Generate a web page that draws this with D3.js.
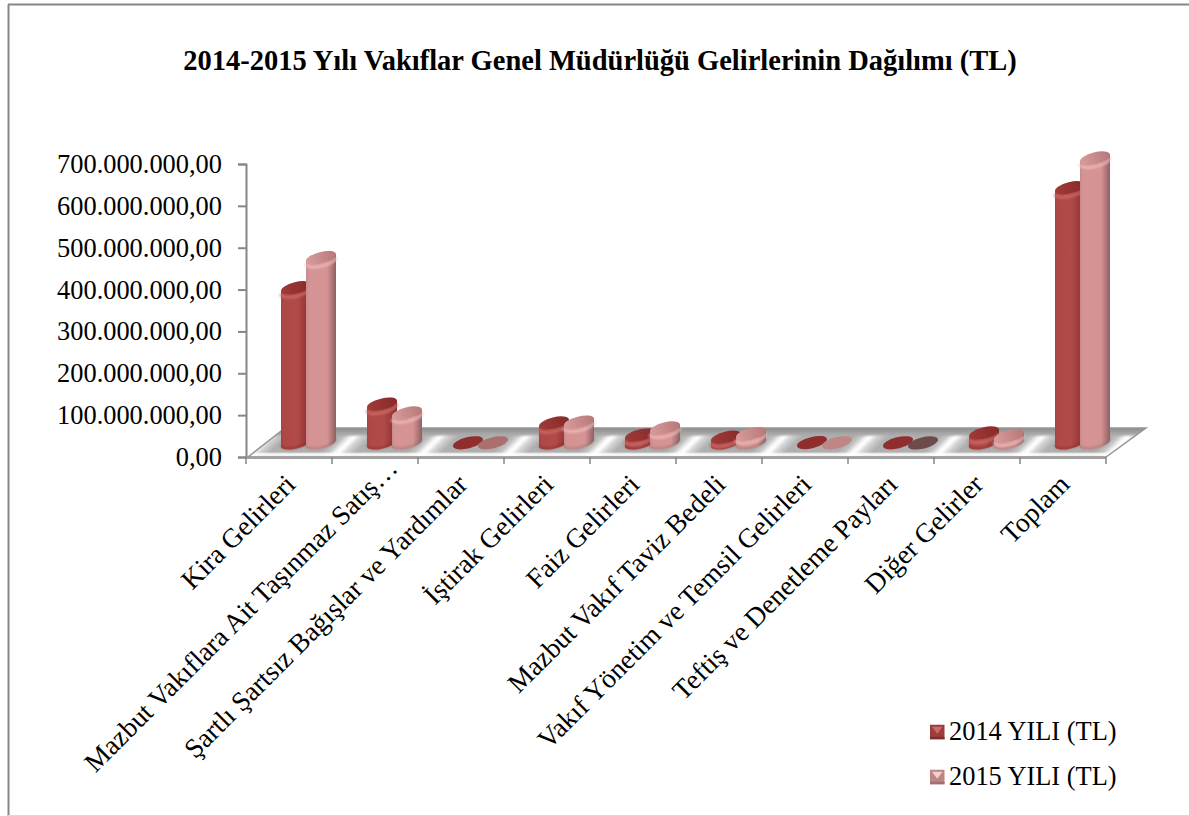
<!DOCTYPE html>
<html>
<head>
<meta charset="utf-8">
<script src="https://d3js.org/d3.v7.min.js"></script>
<style>
html, body { margin: 0; padding: 0; background: #fff; }
text { font-family: "Liberation Serif", "Times New Roman", serif; fill: #000; }
</style>
</head>
<body>
<div id="main"></div>
<script>
var width = 1189;
var height = 816;

var title = "2014-2015 Yılı Vakıflar Genel Müdürlüğü Gelirlerinin Dağılımı (TL)";
var categories = ["Kira Gelirleri", "Mazbut Vakıflara Ait Taşınmaz Satış…", "Şartlı Şartsız Bağışlar ve Yardımlar", "İştirak Gelirleri", "Faiz Gelirleri", "Mazbut Vakıf Taviz Bedeli", "Vakıf Yönetim ve Temsil Gelirleri", "Teftiş ve Denetleme Payları", "Diğer Gelirler", "Toplam"];
var seriesNames = ["2014 YILI (TL)", "2015 YILI (TL)"];
var values2014 = [371000000, 93000000, 500000, 48000000, 19000000, 14000000, 1000000, 500000, 24000000, 610000000];
var values2015 = [443000000, 72000000, 400000, 50000000, 36000000, 22000000, 500000, 100000, 17000000, 681000000];
var yTicks = [0, 100000000, 200000000, 300000000, 400000000, 500000000, 600000000, 700000000];

// top colour of the 2015 discs that have no visible height
var flatTop2015 = {2: "#ab6f6f", 6: "#c08585", 7: "#6e4a4b"};

var x0 = 246, x1 = 1106, y0 = 457, y1 = 164;
var depthX = 40, depthY = 29;

var svg = d3.select("#main").append("svg")
    .attr("width", width)
    .attr("height", height)
    .style("display", "block");

var defs = svg.append("defs");

function hGrad(id, stops) {
    var g = defs.append("linearGradient").attr("id", id);
    stops.forEach(function(s) {
        g.append("stop").attr("offset", s[0]).attr("stop-color", s[1]);
    });
}
hGrad("body0", [[0, "#a54240"], [0.08, "#ae4846"], [0.55, "#b14b48"], [0.85, "#953735"], [1, "#7f2c2b"]]);
hGrad("body1", [[0, "#c88a8b"], [0.1, "#d59393"], [0.7, "#d59394"], [0.9, "#a87172"], [1, "#8d6061"]]);
hGrad("top0", [[0, "#a03b39"], [1, "#872a29"]]);
hGrad("top1", [[0, "#d79c9c"], [1, "#b87878"]]);

var blur = defs.append("filter").attr("id", "soft").attr("x", "-20%").attr("y", "-50%").attr("width", "140%").attr("height", "200%");
blur.append("feGaussianBlur").attr("stdDeviation", 1);

// frame
svg.append("line").attr("x1", 8.5).attr("y1", 4.5).attr("x2", 8.5).attr("y2", 816).attr("stroke", "#868686").attr("stroke-width", 2);
svg.append("line").attr("x1", 8).attr("y1", 4.5).attr("x2", 1189).attr("y2", 4.5).attr("stroke", "#868686").attr("stroke-width", 2);
svg.append("line").attr("x1", 8).attr("y1", 815.5).attr("x2", 1189).attr("y2", 815.5).attr("stroke", "#d9d9d9").attr("stroke-width", 1);

svg.append("text")
    .attr("x", 600)
    .attr("y", 70)
    .attr("text-anchor", "middle")
    .attr("font-size", "28.5px")
    .attr("font-weight", "bold")
    .text(title);

var x = d3.scaleBand().domain(categories).range([x0, x1]);
var y = d3.scaleLinear().domain([0, 700000000]).range([y0, y1]);
var xSeries = d3.scalePoint().domain(seriesNames).range([50, 75]);

// floor
var floorPts = [[x0 + 2, y0], [x1, y0], [x1 + depthX, y0 - depthY], [x0 + 2 + depthX - 3, y0 - depthY]];
var stripes = defs.append("linearGradient")
    .attr("id", "stripes")
    .attr("gradientUnits", "userSpaceOnUse")
    .attr("spreadMethod", "repeat")
    .attr("x1", 0).attr("y1", 0).attr("x2", 43).attr("y2", 43);
[[0, "#b0b0b0"], [0.08, "#c4c4c4"], [0.16, "#f6f6f6"], [0.2, "#ffffff"], [0.28, "#d4d4d4"], [0.4, "#b0b0b0"], [1, "#aeaeae"]].forEach(function(s) {
    stripes.append("stop").attr("offset", s[0]).attr("stop-color", s[1]);
});
var edge = defs.append("linearGradient").attr("id", "floorEdge").attr("x1", 0).attr("y1", 0).attr("x2", 0).attr("y2", 1);
[[0, "#8c8c8c"], [0.2, "#a8a8a8"], [0.32, "#a8a8a8", 0], [0.82, "#ffffff", 0], [0.9, "#ffffff", 0.95], [0.96, "#ffffff", 0.8], [1, "#b0b0b0", 1]].forEach(function(s) {
    edge.append("stop").attr("offset", s[0]).attr("stop-color", s[1]).attr("stop-opacity", s[2] === undefined ? 1 : s[2]);
});
svg.append("polygon")
    .attr("points", floorPts.join(" "))
    .attr("fill", "url(#stripes)");
svg.append("polygon")
    .attr("points", floorPts.join(" "))
    .attr("fill", "url(#floorEdge)")
    .attr("stroke", "#969696")
    .attr("stroke-width", 1.5);

// axes
var fmt = d3.formatLocale({decimal: ",", thousands: ".", grouping: [3], currency: ["", ""]}).format(",.2f");
var yAxis = svg.append("g")
    .attr("transform", "translate(" + x0 + ",0)")
    .call(d3.axisLeft(y).tickValues(yTicks).tickFormat(fmt).tickSize(8).tickSizeOuter(8).tickPadding(16));
yAxis.selectAll("text").attr("font-size", "26.4px").style("font-family", '"Liberation Serif", serif').attr("fill", "#000");
yAxis.selectAll("path, line").attr("stroke", "#868686").attr("stroke-width", 2);

var xAxis = svg.append("g");
xAxis.append("line").attr("x1", x0).attr("x2", x1).attr("y1", y0 + 1).attr("y2", y0 + 1).attr("stroke", "#a0a0a0").attr("stroke-width", 2);
xAxis.selectAll(".tick").data(categories.concat([null])).enter().append("line")
    .attr("x1", function(d) { return d === null ? x1 : x(d); })
    .attr("x2", function(d) { return d === null ? x1 : x(d); })
    .attr("y1", y0)
    .attr("y2", y0 + 7)
    .attr("stroke", "#868686")
    .attr("stroke-width", 1.5);
// the truncated label runs on past the others by the width of its dots
var truncatedShift = 16;
xAxis.selectAll(".cat").data(categories).enter().append("text")
    .attr("class", "cat")
    .attr("text-anchor", "end")
    .attr("font-size", "27.4px")
    .attr("transform", function(d) {
        var s = d.slice(-1) == "…" ? truncatedShift : 0;
        return "translate(" + (x(d) + x.bandwidth() / 2 + 8 + s) + "," + (y0 + 29 - s) + ") rotate(-45)";
    })
    .text(function(d) { return d; });

// cylinders
var rx = 15.4, ry = 5.6, tilt = -14;
var t = tilt * Math.PI / 180;
var halfW = Math.sqrt(rx * rx * Math.cos(t) * Math.cos(t) + ry * ry * Math.sin(t) * Math.sin(t));
var tanY = Math.abs((rx * rx - ry * ry) * Math.sin(t) * Math.cos(t) / halfW);
var baseY = y(0) - 14;

function cylinderBody(cx, top, bottom) {
    return "M" + (cx - halfW) + "," + (top + tanY) +
        "L" + (cx - halfW) + "," + (bottom + tanY) +
        "A" + rx + "," + ry + " " + tilt + " 0 0 " + (cx + halfW) + "," + (bottom - tanY) +
        "L" + (cx + halfW) + "," + (top - tanY) + "Z";
}
function frontArc(cx, cy) {
    return "M" + (cx - halfW) + "," + (cy + tanY) +
        "A" + rx + "," + ry + " " + tilt + " 0 0 " + (cx + halfW) + "," + (cy - tanY);
}

var allValues = [values2014, values2015];
categories.forEach(function(cat, i) {
    seriesNames.forEach(function(name, s) {
        var v = allValues[s][i];
        var cx = x(cat) + xSeries(name);
        var h = y(0) - y(v);
        var top = baseY - h;
        var flat = v < 2000000;
        var g = svg.append("g");
        if (!flat) {
            g.append("path").attr("d", cylinderBody(cx, top, baseY)).attr("fill", "url(#body" + s + ")");
            g.append("path").attr("d", frontArc(cx, baseY - 1))
                .attr("fill", "none")
                .attr("stroke", s == 0 ? "#7f2a29" : "#8f6465")
                .attr("stroke-opacity", 0.6)
                .attr("stroke-width", 1.5)
                .attr("filter", "url(#soft)");
            g.append("path").attr("d", frontArc(cx, top + 3))
                .attr("fill", "none")
                .attr("stroke", s == 0 ? "#cf6f6c" : "#f2bcbc")
                .attr("stroke-opacity", 0.75)
                .attr("stroke-width", 3)
                .attr("filter", "url(#soft)");
        }
        var fill = "url(#top" + s + ")";
        if (flat) {
            fill = s == 0 ? "#8f2e2d" : flatTop2015[i];
        }
        g.append("ellipse")
            .attr("cx", cx)
            .attr("cy", top)
            .attr("rx", rx)
            .attr("ry", ry)
            .attr("transform", "rotate(" + tilt + " " + cx + " " + top + ")")
            .attr("fill", fill);
    });
});

// legend
var legendY = d3.scalePoint().domain(seriesNames).range([731, 776]);
var legendBase = ["#9c3d3b", "#bd8485"];
var legendLight = ["#c76e6b", "#f3cfcf"];
var legendDark = ["#7f2d2c", "#a27071"];
seriesNames.forEach(function(name, s) {
    var lx = 930, sz = 14.5;
    var top = legendY(name) + 1 - sz / 2;
    svg.append("rect").attr("x", lx).attr("y", top).attr("width", sz).attr("height", sz).attr("fill", legendBase[s]);
    svg.append("polygon")
        .attr("points", [[lx + 2, top + 2], [lx + sz - 2, top + 2], [lx + sz / 2, top + sz * 0.62]].join(" "))
        .attr("fill", legendLight[s]);
    svg.append("rect").attr("x", lx).attr("y", top + sz - 2.5).attr("width", sz).attr("height", 2.5).attr("fill", legendDark[s]);
    svg.append("text")
        .attr("x", 949)
        .attr("y", legendY(name) + 9)
        .attr("font-size", "26.4px")
        .text(name);
});
</script>
</body>
</html>
